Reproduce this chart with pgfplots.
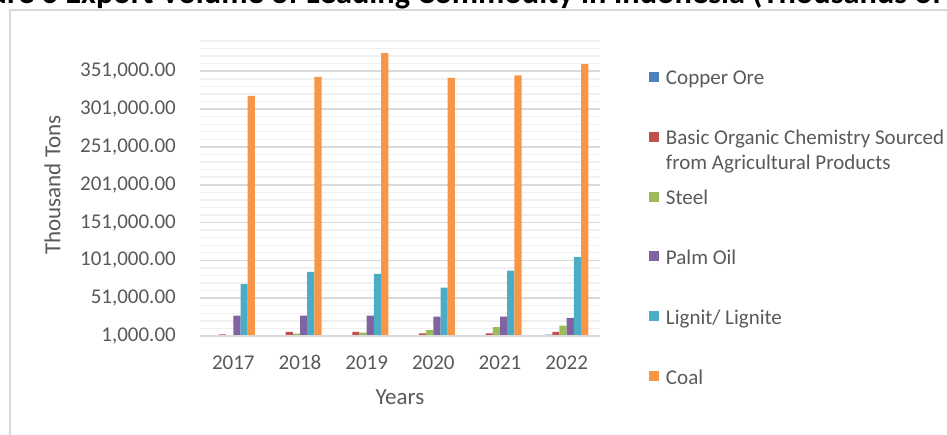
\documentclass[border=0pt]{standalone}
\usepackage{pgfplots}
\pgfplotsset{compat=1.18}
\usepackage{pgfplotstable}
\usepackage{fontspec}
\setmainfont{Carlito}
\usepackage{graphicx}

\definecolor{cCopper}{HTML}{4F81BD}
\definecolor{cBasic}{HTML}{C0504D}
\definecolor{cSteel}{HTML}{9BBB59}
\definecolor{cPalm}{HTML}{8064A2}
\definecolor{cLignite}{HTML}{4BACC6}
\definecolor{cCoal}{HTML}{F79646}
\definecolor{tickc}{HTML}{595959}
\definecolor{gMajor}{HTML}{D9D9D9}
\definecolor{gMinor}{HTML}{F0F0F0}
\definecolor{borderc}{HTML}{D9D9D9}

\pgfplotstableread{
year copper basic steel palm lignite coal
0 1000 3300 2300 27900 69500 318500
1 1000 6300 4000 27900 85800 343600
2 1000 6300 5400 27900 83100 374900
3 1000 4500 8900 26600 65000 342300
4 1000 4500 12900 26600 87500 345400
5 2700 6300 14600 24800 105200 360300
}\datatable

\pgfplotsset{ybar legend/.style={legend image code/.code={\fill[##1,draw=none] (0pt,-11.25pt) rectangle (10pt,-1.25pt);}}}
\newcommand\legtext[1]{\rule[-30pt]{0pt}{60pt}\smash{\parbox[t]{330pt}{#1}}}
\newcommand\myfnt{\fontsize{21}{25}\selectfont}
\newsavebox\tvis
\newsavebox\tfig
\newlength\tvw
\newlength\tfw

\begin{document}%
\sbox\tvis{\fontsize{10}{12}\selectfont\bfseries re 6 Export Volume of Leading Commodity in Indonesia (Thousands of}%
\sbox\tfig{\fontsize{10}{12}\selectfont\bfseries Figu}%
\setlength\tvw{\wd\tvis}%
\setlength\tfw{\wd\tfig}%
\pgfmathsetmacro\tscale{935/\tvw}%
\pgfmathsetmacro\tx{7-\tscale*\tfw}%
\begin{tikzpicture}%
\useasboundingbox (0,0) rectangle (947pt,434pt);%
\clip (0,0) rectangle (947pt,434pt);%
\node[anchor=base west, inner sep=0pt, outer sep=0pt] at (\tx pt,430pt) {\scalebox{\tscale}{\fontsize{10}{12}\selectfont\bfseries Figure 6 Export Volume of Leading Commodity in Indonesia (Thousands of Tons)}};
\draw[line width=2pt, color=borderc] (9.5pt,-20pt) -- (9.5pt,423.5pt) -- (960pt,423.5pt);
\begin{axis}[
  at={(200pt,98pt)}, anchor=south west,
  scale only axis, width=400pt, height=295pt,
  ymin=1000, ymax=391000,
  xmin=-0.5, xmax=5.5,
  ytick={1000,51000,101000,151000,201000,251000,301000,351000},
  minor ytick={11000,21000,31000,41000,61000,71000,81000,91000,111000,121000,131000,141000,161000,171000,181000,191000,211000,221000,231000,241000,261000,271000,281000,291000,311000,321000,331000,341000,361000,371000,381000,391000},
  ymajorgrids, yminorgrids,
  major grid style={draw=gMajor, line width=1.6pt},
  minor grid style={draw=gMinor, line width=1.4pt},
  axis line style={draw=none},
  major tick length=0pt, minor tick length=0pt,
  tick style={draw=none},
  xtick={0,1,2,3,4,5},
  xticklabels={2017,2018,2019,2020,2021,2022},
  ybar=0pt, bar width=7.2pt,
  scaled y ticks=false,
  yticklabel style={/pgf/number format/.cd, fixed, fixed zerofill, precision=2, 1000 sep={,}, assume math mode=true, /tikz/.cd, text=tickc, anchor=east, inner sep=0pt, xshift=-24pt, font=\myfnt},
  xticklabel style={text=tickc, anchor=north, inner sep=0pt, yshift=-20pt, font=\myfnt, text height=13.5pt, text depth=0pt},
  ylabel={Thousand Tons},
  ylabel style={at={(axis description cs:-0.369,0.512)}, anchor=center, font=\fontsize{23}{27}\selectfont, text=tickc},
  xlabel={Years},
  xlabel style={at={(axis description cs:0.5,-0.2085)}, anchor=center, font=\fontsize{23}{27}\selectfont, text=tickc},
  legend style={at={(axis description cs:1.1225,0.9534)}, anchor=north west, draw=none, fill=none, inner sep=0pt, outer sep=0pt, row sep=28.4pt, column sep=7pt, font=\fontsize{21}{24.5}\selectfont, text=tickc, nodes={inner sep=0pt}, cells={anchor=west}},
]
\addplot[fill=cCopper, draw=none] table[x=year, y=copper] {\datatable};
\addlegendentry{\legtext{Copper Ore}}
\addplot[fill=cBasic, draw=none] table[x=year, y=basic] {\datatable};
\addlegendentry{\legtext{Basic Organic Chemistry Sourced\newline from Agricultural Products}}
\addplot[fill=cSteel, draw=none] table[x=year, y=steel] {\datatable};
\addlegendentry{\legtext{Steel}}
\addplot[fill=cPalm, draw=none] table[x=year, y=palm] {\datatable};
\addlegendentry{\legtext{Palm Oil}}
\addplot[fill=cLignite, draw=none] table[x=year, y=lignite] {\datatable};
\addlegendentry{\legtext{Lignit/ Lignite}}
\addplot[fill=cCoal, draw=none] table[x=year, y=coal] {\datatable};
\addlegendentry{\legtext{Coal}}
\draw[gMajor, line width=1.8pt] (rel axis cs:0,0) -- (rel axis cs:1,0);
\end{axis}
\end{tikzpicture}%
\end{document}
